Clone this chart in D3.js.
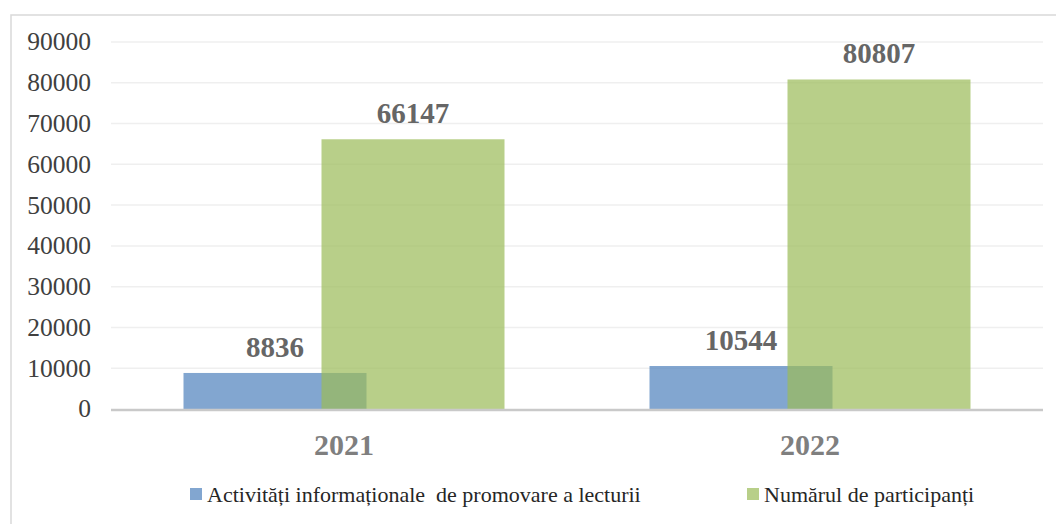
<!DOCTYPE html>
<html><head><meta charset="utf-8">
<script src="https://cdn.jsdelivr.net/npm/d3@7"></script>
<style>body{margin:0;background:#fff;}svg{display:block;}</style>
</head><body><svg id="c" width="1056" height="524"></svg>
<script>
const categories = ["2021", "2022"];
const seriesNames = ["Activități informaționale  de promovare a lecturii", "Numărul de participanți"];
const activitati = [8836, 10544];
const participanti = [66147, 80807];
const yTicks = [0, 10000, 20000, 30000, 40000, 50000, 60000, 70000, 80000, 90000];
const colors = ["#4f81bd", "#9bbb59"];

(function () {
const FONT = '"Liberation Serif"';
const svg = d3.select("#c");
svg.append("rect").attr("x", 11).attr("y", 15).attr("width", 1060).attr("height", 520)
  .attr("fill", "#fff").attr("stroke", "#d9d9d9").attr("stroke-width", 1.5);

const mLeft = 111, mRight = 1043, mTop = 42, mBottom = 409;
const x = d3.scaleBand().domain(categories).range([mLeft, mRight]);
const y = d3.scaleLinear().domain([0, 90000]).range([mBottom, mTop]);

svg.append("g").selectAll("line").data(yTicks.filter(d => d > 0)).join("line")
  .attr("x1", mLeft).attr("x2", mRight).attr("y1", d => y(d)).attr("y2", d => y(d))
  .attr("stroke", "#efefef").attr("stroke-width", 1.5);

svg.append("g").selectAll("text").data(yTicks).join("text")
  .attr("x", mLeft - 20).attr("y", d => y(d)).attr("dy", "0.33em")
  .attr("text-anchor", "end")
  .style("font-family", FONT).style("font-weight", "normal").style("font-size", "25.5px")
  .style("fill", "#404040")
  .text(d => d3.format("d")(d));

const bw = 183, ov = 45;
const groupW = 2 * bw - ov;
const series = [activitati, participanti];
series.forEach((vals, s) => {
  svg.append("g").selectAll("rect").data(categories).join("rect")
    .attr("x", d => x(d) + x.bandwidth() / 2 - groupW / 2 + s * (bw - ov))
    .attr("width", bw)
    .attr("y", (d, i) => y(vals[i]))
    .attr("height", (d, i) => y(0) - y(vals[i]))
    .attr("fill", colors[s]).attr("fill-opacity", 0.71);
});
series.forEach((vals, s) => {
  svg.append("g").selectAll("text").data(categories).join("text")
    .attr("x", d => x(d) + x.bandwidth() / 2 - groupW / 2 + s * (bw - ov) + bw / 2)
    .attr("y", (d, i) => y(vals[i]) - 16)
    .attr("text-anchor", "middle")
    .style("font-family", FONT).style("font-weight", "bold").style("font-size", "29px")
    .style("fill", "#666666")
    .text((d, i) => vals[i]);
});

svg.append("line").attr("x1", mLeft).attr("x2", mRight).attr("y1", mBottom + 1).attr("y2", mBottom + 1)
  .attr("stroke", "#c9c9c9").attr("stroke-width", 2.5);

svg.append("g").selectAll("text").data(categories).join("text")
  .attr("x", d => x(d) + x.bandwidth() / 2).attr("y", mBottom + 46)
  .attr("text-anchor", "middle")
  .style("font-family", FONT).style("font-size", "30px").style("font-weight", "bold").style("fill", "#7f7f7f")
  .text(d => d);

const legX = [190, 747];
const leg = svg.append("g");
seriesNames.forEach((n, i) => {
  leg.append("rect").attr("x", legX[i]).attr("y", 488).attr("width", 12).attr("height", 12).attr("fill", colors[i]).attr("fill-opacity", 0.71);
  leg.append("text").attr("x", legX[i] + 17).attr("y", 502)
    .style("font-family", FONT).style("font-weight", "normal").style("font-size", "22px").style("fill", "#262626")
    .style("white-space", "pre").text(n);
});
})();
</script></body></html>
